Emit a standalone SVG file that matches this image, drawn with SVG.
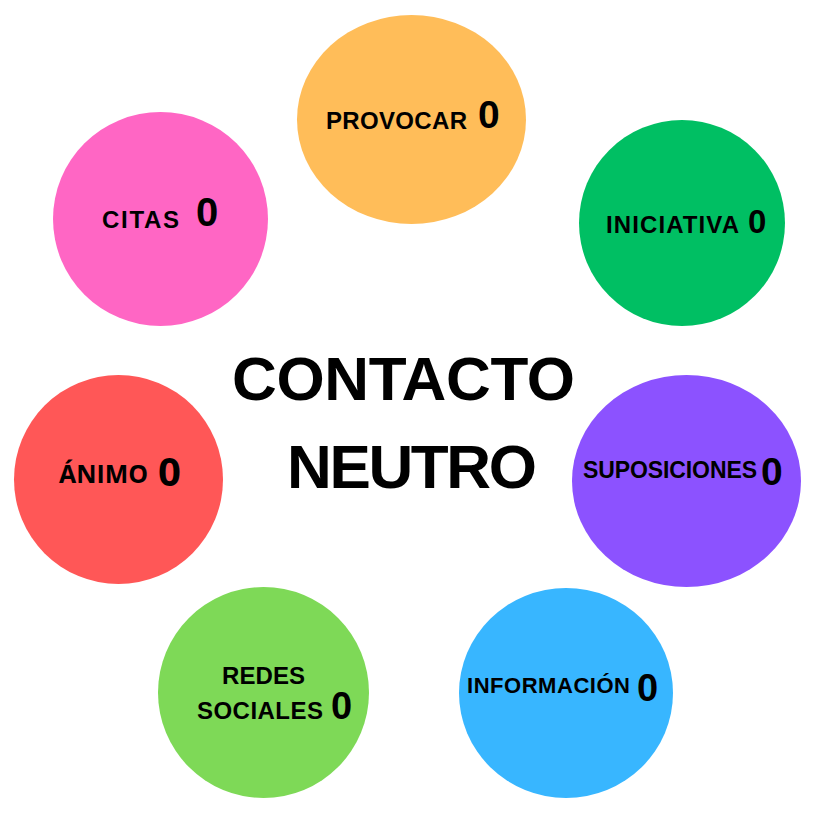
<svg xmlns="http://www.w3.org/2000/svg" width="813" height="813" viewBox="0 0 813 813">
<style>
.lbl{font-family:"Liberation Sans",Arial,sans-serif;font-weight:bold;fill:#000}
.num{font-family:"Liberation Sans",Arial,sans-serif;font-weight:bold;fill:#000}
.os{font-family:"Open Sans","Liberation Sans",sans-serif;font-weight:bold;fill:#000}
.title{font-family:"Liberation Sans",Arial,sans-serif;font-weight:bold;fill:#000;font-size:62px;text-anchor:middle}
</style>
<rect width="813" height="813" fill="#fff"/>
<g id="provocar">
<ellipse cx="411.5" cy="119.5" rx="114.5" ry="104.5" fill="#FFBD59"/>
<text class="lbl" x="326" y="129" font-size="24" textLength="141">PROVOCAR</text>
<text class="num" x="478" y="128" font-size="39">0</text>
</g>
<g id="iniciativa">
<ellipse cx="682" cy="223" rx="103" ry="103" fill="#00BF63"/>
<text class="lbl" x="606" y="233" font-size="24" textLength="133">INICIATIVA</text>
<text class="num" x="748" y="233" font-size="33">0</text>
</g>
<g id="suposiciones">
<ellipse cx="686.5" cy="481" rx="114.5" ry="106" fill="#8C52FF"/>
<text class="lbl" x="583" y="478" font-size="23" textLength="174">SUPOSICIONES</text>
<text class="num" x="761" y="485" font-size="39">0</text>
</g>
<g id="informacion">
<ellipse cx="566" cy="693" rx="107" ry="105" fill="#38B6FF"/>
<text class="lbl" x="467" y="693" font-size="22" textLength="163">INFORMACIÓN</text>
<text class="num" x="637" y="701" font-size="38">0</text>
</g>
<g id="redes-sociales">
<ellipse cx="263.5" cy="692.5" rx="105.5" ry="105.5" fill="#7ED957"/>
<text class="lbl" x="222" y="684" font-size="24" textLength="83">REDES</text>
<text class="lbl" x="197" y="719" font-size="24" textLength="126">SOCIALES</text>
<text class="num" x="331" y="719" font-size="38">0</text>
</g>
<g id="animo">
<ellipse cx="118.5" cy="479.5" rx="104.5" ry="104.5" fill="#FF5757"/>
<text class="os" x="59" y="483" font-size="25" textLength="89" lengthAdjust="spacingAndGlyphs">ÁNIMO</text>
<text class="os" x="158" y="486" font-size="40">0</text>
</g>
<g id="citas">
<ellipse cx="160.5" cy="219" rx="107.5" ry="107" fill="#FF66C4"/>
<text class="lbl" x="102" y="228" font-size="24" textLength="77">CITAS</text>
<text class="num" x="196" y="226" font-size="40">0</text>
</g>
<g id="center">
<text class="title" x="403.5" y="400" textLength="343">CONTACTO</text>
<text class="title" x="412" y="488" textLength="250">NEUTRO</text>
</g>
<g id="connectors"></g>
</svg>
